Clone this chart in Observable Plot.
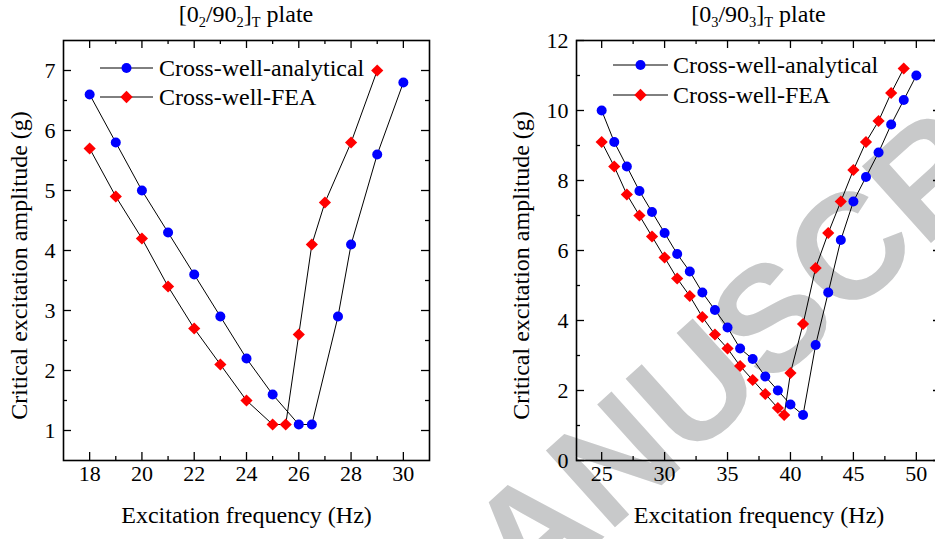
<!DOCTYPE html>
<html>
<head>
<meta charset="utf-8">
<script src="https://cdn.jsdelivr.net/npm/d3@7"></script>
<script src="https://cdn.jsdelivr.net/npm/@observablehq/plot@0.6"></script>
<style>
  html, body { margin: 0; padding: 0; background: #fff; overflow: hidden; }
  body { width: 935px; height: 539px; font-family: "Liberation Serif", "Times New Roman", serif; }
  #wrap { display: flex; width: 947px; }
  .panel { position: relative; flex: 0 0 auto; }
  .title { height: 28px; line-height: 28px; font-size: 24px; text-align: center; white-space: nowrap; color: #000; }
  .title sub { font-size: 0.6em; vertical-align: baseline; position: relative; top: 0.32em; }
  .legend { position: absolute; left: 0; top: 0; pointer-events: none; }
  .panel svg { display: block; }
  .panel svg text { font-family: "Liberation Serif", "Times New Roman", serif !important; }
  .panel svg text.wm { font-family: "Liberation Sans", Arial, sans-serif !important; font-weight: bold; }
</style>
</head>
<body>
<div id="wrap"></div>
<script>
// ---------- data ----------
const leftTitle = ["0", "2", "/90", "2", "]", "T", " plate"];
const rightTitle = ["0", "3", "/90", "3", "]", "T", " plate"];
const seriesNames = ["Cross-well-analytical", "Cross-well-FEA"];
const xAxisLabel = "Excitation frequency (Hz)";
const yAxisLabel = "Critical excitation amplitude (g)";
const watermarkText = "MANUSCRIPT";

// Left panel [0_2/90_2]_T
const leftAnalyticalFreq = [18, 19, 20, 21, 22, 23, 24, 25, 26, 26.5, 27.5, 28, 29, 30];
const leftAnalyticalAmp  = [6.6, 5.8, 5.0, 4.3, 3.6, 2.9, 2.2, 1.6, 1.1, 1.1, 2.9, 4.1, 5.6, 6.8];
const leftFEAFreq = [18, 19, 20, 21, 22, 23, 24, 25, 25.5, 26, 26.5, 27, 28, 29];
const leftFEAAmp  = [5.7, 4.9, 4.2, 3.4, 2.7, 2.1, 1.5, 1.1, 1.1, 2.6, 4.1, 4.8, 5.8, 7.0];
const leftXDomain = [17, 31];
const leftYDomain = [0.5, 7.5];
const leftXTicks = [18, 20, 22, 24, 26, 28, 30];
const leftXMinor = [19, 21, 23, 25, 27, 29];
const leftYTicks = [1, 2, 3, 4, 5, 6, 7];
const leftYMinor = [1.5, 2.5, 3.5, 4.5, 5.5, 6.5];

// Right panel [0_3/90_3]_T
const rightAnalyticalFreq = [25, 26, 27, 28, 29, 30, 31, 32, 33, 34, 35, 36, 37, 38, 39, 40, 41, 42, 43, 44, 45, 46, 47, 48, 49, 50];
const rightAnalyticalAmp  = [10.0, 9.1, 8.4, 7.7, 7.1, 6.5, 5.9, 5.4, 4.8, 4.3, 3.8, 3.2, 2.9, 2.4, 2.0, 1.6, 1.3, 3.3, 4.8, 6.3, 7.4, 8.1, 8.8, 9.6, 10.3, 11.0];
const rightFEAFreq = [25, 26, 27, 28, 29, 30, 31, 32, 33, 34, 35, 36, 37, 38, 39, 39.5, 40, 41, 42, 43, 44, 45, 46, 47, 48, 49];
const rightFEAAmp  = [9.1, 8.4, 7.6, 7.0, 6.4, 5.8, 5.2, 4.7, 4.1, 3.6, 3.2, 2.7, 2.3, 1.9, 1.5, 1.3, 2.5, 3.9, 5.5, 6.5, 7.4, 8.3, 9.1, 9.7, 10.5, 11.2];
const rightXDomain = [23, 52];
const rightYDomain = [0, 12];
const rightXTicks = [25, 30, 35, 40, 45, 50];
const rightXMinor = [27.5, 32.5, 37.5, 42.5, 47.5];
const rightYTicks = [0, 2, 4, 6, 8, 10, 12];
const rightYMinor = [1, 3, 5, 7, 9, 11];

// ---------- helpers ----------
const FONT = "Liberation Serif, Times New Roman, serif";
const zip = (xs, ys) => xs.map((x, i) => ({x, y: ys[i]}));

function makePanel(cfg) {
  const panel = document.createElement("div");
  panel.className = "panel";
  panel.style.width = cfg.width + "px";

  const t = document.createElement("div");
  t.className = "title";
  t.style.marginLeft = cfg.marginLeft + "px";
  t.style.width = (cfg.width - cfg.marginLeft - cfg.marginRight) + "px";
  const p = cfg.title;
  t.innerHTML = `[${p[0]}<sub>${p[1]}</sub>${p[2]}<sub>${p[3]}</sub>${p[4]}<sub>${p[5]}</sub>${p[6]}`;
  panel.appendChild(t);

  const H = 511, mT = 12, mB = 79;
  const innerW = cfg.width - cfg.marginLeft - cfg.marginRight;
  const innerH = H - mT - mB;
  const major = 8, minor = 4;
  const tickStyle = {stroke: "black", strokeWidth: 1.3};
  const txt = {fontFamily: FONT, fill: "black"};

  const analytical = zip(cfg.aFreq, cfg.aAmp);
  const fea = zip(cfg.fFreq, cfg.fAmp);

  const marks = [];
  if (cfg.watermark) {
    marks.push(Plot.text([watermarkText], {
      text: d => d, frameAnchor: "top-left", dx: cfg.watermark.dx, dy: cfg.watermark.dy,
      rotate: -42, fontSize: 150, fontWeight: "bold", fontFamily: "Liberation Sans, Arial, sans-serif",
      fill: "#c8c9ca", textAnchor: "middle"
    }));
  }
  marks.push(
    Plot.frame({stroke: "black", strokeWidth: 1.6}),
    // inward ticks: bottom & top
    Plot.tickX(cfg.xTicks, {x: d => d, insetTop: innerH - major, ...tickStyle}),
    Plot.tickX(cfg.xMinor, {x: d => d, insetTop: innerH - minor, ...tickStyle}),
    Plot.tickX(cfg.xTicks, {x: d => d, insetBottom: innerH - major, ...tickStyle}),
    Plot.tickX(cfg.xMinor, {x: d => d, insetBottom: innerH - minor, ...tickStyle}),
    // inward ticks: left & right
    Plot.tickY(cfg.yTicks, {y: d => d, insetRight: innerW - major, ...tickStyle}),
    Plot.tickY(cfg.yMinor, {y: d => d, insetRight: innerW - minor, ...tickStyle}),
    Plot.tickY(cfg.yTicks, {y: d => d, insetLeft: innerW - major, ...tickStyle}),
    Plot.tickY(cfg.yMinor, {y: d => d, insetLeft: innerW - minor, ...tickStyle}),
    // tick labels
    Plot.text(cfg.xTicks, {x: d => d, text: d => String(d), frameAnchor: "bottom", dy: 20, fontSize: 22, ...txt}),
    Plot.text(cfg.yTicks, {y: d => d, text: d => String(d), frameAnchor: "left", dx: -8, textAnchor: "end", fontSize: 22, ...txt}),
    // series
    Plot.line(analytical, {x: "x", y: "y", stroke: "black", strokeWidth: 1}),
    Plot.line(fea, {x: "x", y: "y", stroke: "black", strokeWidth: 1}),
    Plot.dot(analytical, {x: "x", y: "y", r: 5, fill: "#0000ff", symbol: "circle"}),
    Plot.dot(fea, {x: "x", y: "y", r: 5.5, fill: "#ff0000", symbol: "diamond2"}),
    // axis titles
    Plot.text([xAxisLabel], {text: d => d, frameAnchor: "bottom", dy: 62, textAnchor: "middle", fontSize: 24, ...txt}),
    Plot.text([yAxisLabel], {text: d => d, frameAnchor: "left", dx: cfg.yLabelDx, dy: 15, rotate: -90, textAnchor: "middle", fontSize: 24, ...txt})
  );

  const svg = Plot.plot({
    width: cfg.width,
    height: H,
    marginTop: mT,
    marginBottom: mB,
    marginLeft: cfg.marginLeft,
    marginRight: cfg.marginRight,
    style: {fontFamily: FONT, fontSize: "22px", color: "black", background: "white", overflow: "hidden"},
    x: {domain: cfg.xDomain, axis: null},
    y: {domain: cfg.yDomain, axis: null},
    marks
  });
  d3.select(svg).selectAll("text").filter(function() { return this.textContent === watermarkText; })
    .classed("wm", true);
  panel.appendChild(svg);

  // legend overlay
  const L = cfg.legend;
  const lg = d3.create("svg").attr("class", "legend").attr("width", cfg.width).attr("height", 539);
  seriesNames.forEach((name, i) => {
    const y = L.y[i];
    lg.append("line").attr("x1", L.x0).attr("x2", L.x1).attr("y1", y).attr("y2", y)
      .attr("stroke", "black").attr("stroke-width", 1);
    const cx = (L.x0 + L.x1) / 2;
    if (i === 0) {
      lg.append("circle").attr("cx", cx).attr("cy", y).attr("r", 5).attr("fill", "#0000ff");
    } else {
      const s = 6.2;
      lg.append("path").attr("d", `M${cx},${y - s}L${cx + s},${y}L${cx},${y + s}L${cx - s},${y}Z`).attr("fill", "#ff0000");
    }
    lg.append("text").attr("x", L.tx).attr("y", y).attr("dy", "0.34em")
      .attr("font-family", FONT).attr("font-size", 24).attr("fill", "black").text(name);
  });
  panel.appendChild(lg.node());
  return panel;
}

const wrap = document.getElementById("wrap");
wrap.appendChild(makePanel({
  width: 467, marginLeft: 63, marginRight: 38,
  title: leftTitle,
  aFreq: leftAnalyticalFreq, aAmp: leftAnalyticalAmp, fFreq: leftFEAFreq, fAmp: leftFEAAmp,
  xDomain: leftXDomain, yDomain: leftYDomain,
  xTicks: leftXTicks, xMinor: leftXMinor, yTicks: leftYTicks, yMinor: leftYMinor,
  yLabelDx: -44,
  legend: {x0: 100, x1: 153, tx: 159, y: [68, 97]}
}));
wrap.appendChild(makePanel({
  width: 480, marginLeft: 109, marginRight: 6,
  title: rightTitle,
  aFreq: rightAnalyticalFreq, aAmp: rightAnalyticalAmp, fFreq: rightFEAFreq, fAmp: rightFEAAmp,
  xDomain: rightXDomain, yDomain: rightYDomain,
  xTicks: rightXTicks, xMinor: rightXMinor, yTicks: rightYTicks, yMinor: rightYMinor,
  yLabelDx: -55,
  watermark: {dx: 158, dy: 236},
  legend: {x0: 146, x1: 201, tx: 206, y: [65, 95]}
}));
</script>
</body>
</html>
